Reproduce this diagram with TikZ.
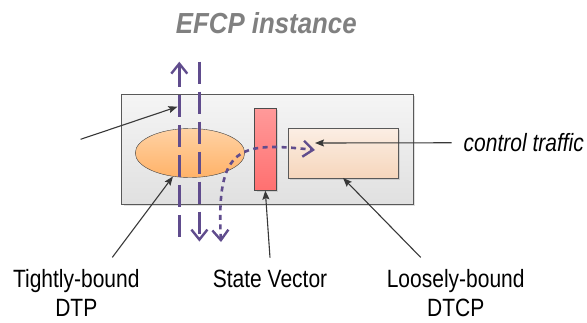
\documentclass[tikz,border=0pt]{standalone}
\usepackage{fontspec}
\usetikzlibrary{arrows.meta,shapes.geometric,shadows}
\newfontfamily\lblfont[FakeStretch=0.84]{Liberation Sans}
\newfontfamily\ttlfont[FakeStretch=0.89]{Liberation Sans}
\definecolor{flowpurple}{RGB}{96,76,141}
\definecolor{titlegray}{RGB}{128,128,128}
\definecolor{dtptop}{RGB}{255,210,164}
\definecolor{dtpbot}{RGB}{255,178,104}
\definecolor{svtop}{RGB}{255,154,154}
\definecolor{svbot}{RGB}{255,112,112}
\definecolor{dtcptop}{RGB}{251,238,228}
\definecolor{dtcpbot}{RGB}{246,214,188}

\begin{document}
\begin{tikzpicture}[x=1pt, y=-1pt,
  every node/.style={font=\lblfont\fontsize{25}{29}\selectfont, inner sep=0pt},
  boxshadow/.style={drop shadow={shadow xshift=2pt, shadow yshift=-2pt, opacity=0.25}},
  pointer/.style={-{Stealth[length=9pt,width=7pt,inset=1.5pt]}, draw=black!78, line width=1.1pt},
  flow/.style={draw=flowpurple, line width=2.6pt, dash pattern=on 22pt off 8pt},
  dotflow/.style={draw=flowpurple, line width=2.6pt, dash pattern=on 5pt off 4.5pt},
  chev/.tip={Straight Barb[length=10pt,width=16pt,line width=2.4pt]}]
  \useasboundingbox (0,0) rectangle (587,322);

  % EFCP instance box
  \node[draw=black!65, top color=black!4, bottom color=black!12, boxshadow,
        minimum width=291.5pt, minimum height=110pt] (efcp) at (267.25,149) {};
  \node[draw=black!75, ellipse, top color=dtptop, bottom color=dtpbot,
        minimum width=109.5pt, minimum height=49pt] (dtp) at (190,153) {};
  \node[draw=black!70, top color=svtop, bottom color=svbot, boxshadow,
        minimum width=21.4pt, minimum height=82.3pt] (sv) at (265.3,149.2) {};
  \node[draw=black!65, top color=dtcptop, bottom color=dtcpbot, boxshadow,
        minimum width=110pt, minimum height=49.4pt] (dtcp) at (343,153) {};

  % Texts
  \node[font=\ttlfont\bfseries\itshape\fontsize{29}{34}\selectfont, text=titlegray,
        anchor=base] (title) at (266.3,33.3) {EFCP instance};
  \node[align=center, anchor=north] (tdtp) at (76.3,269.4) {Tightly-bound\\DTP};
  \node[anchor=base] (svl) at (270,287.3) {State Vector};
  \node[align=center, anchor=north] (ldtcp) at (455.7,269.4) {Loosely-bound\\DTCP};
  \node[font=\lblfont\itshape\fontsize{25}{29}\selectfont, anchor=base west] (ct) at (463.5,151.7) {control traffic};

  % Data flows
  \coordinate (uptop) at (179.3,61.7);
  \coordinate (upbot) at (179.3,240);
  \coordinate (dntop) at (199.4,61.7);
  \coordinate (dnbot) at (199.4,241.5);
  \coordinate (cvbot) at (221,242);
  \coordinate (cvtip) at (315,150);
  \draw[flow, chev-] (uptop) -- (upbot);
  \draw[flow, -chev] (dntop) -- (dnbot);
  \draw[dotflow, chev-chev] (cvbot) .. controls (216,145) and (240,142) .. (cvtip);

  % Pointers
  \coordinate (api) at (80.6,139.3);
  \coordinate (apihead) at (177.5,106.7);
  \coordinate (cthead) at (315,143);
  \draw[pointer] (api) -- (apihead);
  \draw[pointer] ([shift={(36,-12)}]tdtp.north) -- (dtp.234);
  \draw[pointer] ([yshift=12pt]svl.north) -- (sv.south);
  \draw[pointer] ([shift={(-35,-12)}]ldtcp.north) -- (dtcp.south);
  \draw[pointer] ([xshift=-12pt]ct.west) -- (cthead);
\end{tikzpicture}
\end{document}
